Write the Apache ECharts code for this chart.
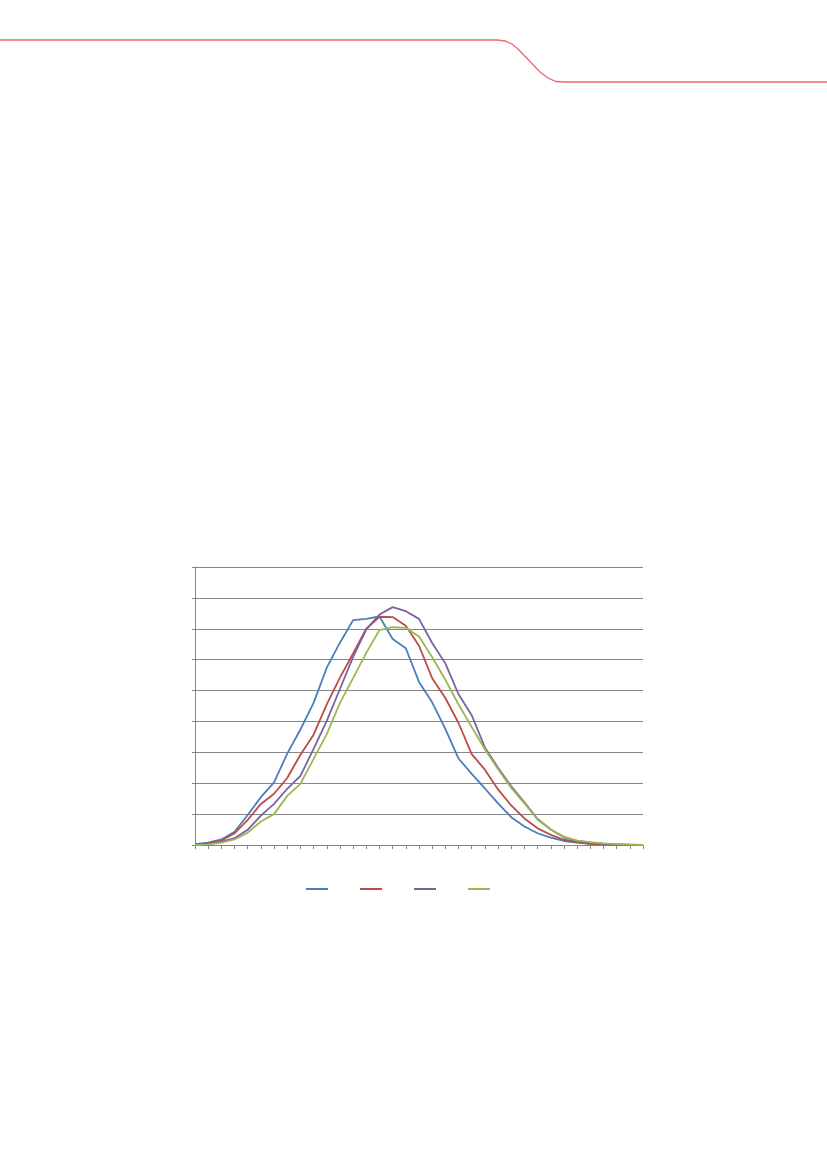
<!DOCTYPE html>
<html>
<head>
<meta charset="utf-8">
<script src="https://cdn.jsdelivr.net/npm/echarts@6/dist/echarts.min.js"></script>
<style>
html,body{margin:0;padding:0;background:#fff;}
#chart{width:827px;height:1170px;}
</style>
</head>
<body>
<div id="chart"></div>
<script>
var categories = [];
for (var k = 1; k <= 35; k++) { categories.push(String(k)); }

var seriesNames = ['Series 1', 'Series 2', 'Series 3', 'Series 4'];

var blueValues = [0.03, 0.08, 0.18, 0.43, 0.97, 1.55, 2.03, 2.96, 3.74, 4.6, 5.74, 6.55, 7.28, 7.32, 7.40, 6.67, 6.37, 5.28, 4.62, 3.76, 2.8, 2.3, 1.83, 1.35, 0.9, 0.6, 0.38, 0.24, 0.13, 0.08, 0.04, 0.02, 0.01, 0.0, 0.0];
var redValues = [0.02, 0.05, 0.14, 0.38, 0.81, 1.33, 1.66, 2.17, 2.92, 3.57, 4.55, 5.42, 6.2, 7.0, 7.39, 7.38, 7.1, 6.45, 5.4, 4.76, 3.95, 2.94, 2.44, 1.8, 1.28, 0.86, 0.54, 0.33, 0.17, 0.09, 0.04, 0.02, 0.01, 0.0, 0.0];
var purpleValues = [0.01, 0.03, 0.1, 0.22, 0.49, 0.95, 1.33, 1.82, 2.24, 3.11, 4.02, 5.05, 6.09, 6.98, 7.46, 7.7, 7.57, 7.32, 6.54, 5.88, 4.88, 4.2, 3.16, 2.5, 1.9, 1.38, 0.84, 0.5, 0.25, 0.13, 0.08, 0.04, 0.02, 0.01, 0.0];
var greenValues = [0.0, 0.02, 0.08, 0.18, 0.4, 0.76, 1.0, 1.59, 1.98, 2.79, 3.59, 4.6, 5.4, 6.22, 6.96, 7.05, 7.03, 6.75, 6.08, 5.35, 4.55, 3.82, 3.1, 2.45, 1.85, 1.35, 0.82, 0.5, 0.27, 0.14, 0.09, 0.05, 0.03, 0.01, 0.0];

var colors = ['#4A7EBB', '#BE4B48', '#7D60A0', '#98B954'];
var allValues = [blueValues, redValues, purpleValues, greenValues];

var chart = echarts.init(document.getElementById('chart'), null, {renderer: 'canvas'});

var series = allValues.map(function (vals, i) {
  return {
    name: seriesNames[i],
    type: 'line',
    data: vals,
    showSymbol: false,
    symbol: 'none',
    smooth: false,
    lineStyle: {color: colors[i], width: 1.8},
    itemStyle: {color: colors[i]},
    animation: false
  };
});

chart.setOption({
  animation: false,
  backgroundColor: '#ffffff',
  color: colors,
  graphic: [{
    type: 'polyline',
    shape: {
      points: [[0, 40], [497, 40], [505, 41], [512, 44], [518, 49], [540, 72], [548, 78], [556, 81.5], [565, 82], [827, 82]]
    },
    style: {fill: null, stroke: '#E8686C', lineWidth: 1.3}
  }],
  grid: {left: 195, top: 567, right: 184, bottom: 325, containLabel: false},
  legend: {
    left: 301,
    top: 883,
    icon: 'rect',
    itemWidth: 22,
    itemHeight: 2,
    itemGap: 32,
    formatter: function () { return ''; },
    data: seriesNames
  },
  xAxis: {
    type: 'category',
    data: categories,
    boundaryGap: false,
    axisLine: {show: true, lineStyle: {color: '#868686', width: 1}},
    axisTick: {show: true, length: 4, inside: false, lineStyle: {color: '#868686'}, interval: 0},
    axisLabel: {show: false},
    splitLine: {show: false}
  },
  yAxis: {
    type: 'value',
    min: 0,
    max: 9,
    interval: 1,
    axisLine: {show: true, lineStyle: {color: '#868686', width: 1}},
    axisTick: {show: true, length: 3, lineStyle: {color: '#868686'}},
    axisLabel: {show: false},
    splitLine: {show: true, lineStyle: {color: '#868686', width: 1}}
  },
  series: series
});
</script>
</body>
</html>
